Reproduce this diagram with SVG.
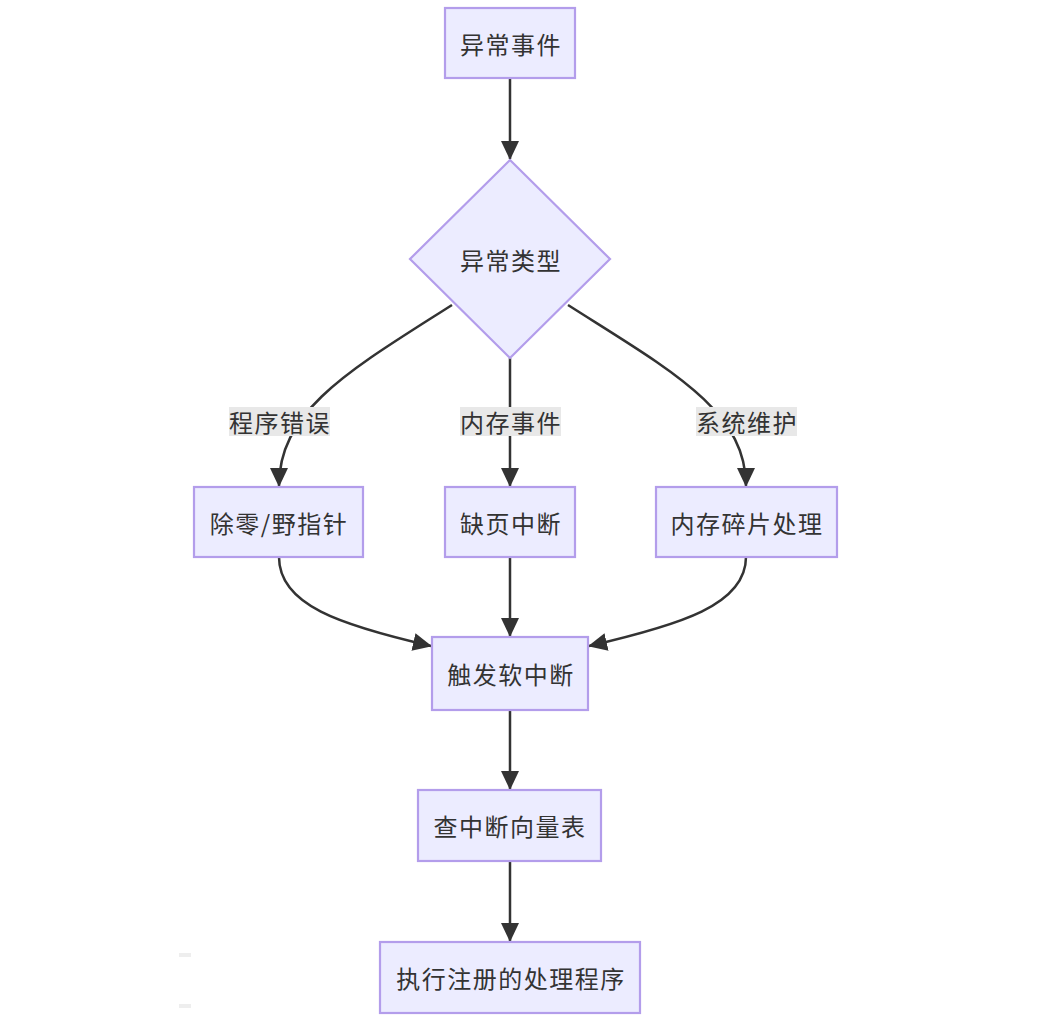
<svg xmlns="http://www.w3.org/2000/svg" width="1045" height="1024" viewBox="0 0 1045 1024">
<style>
.node{fill:#ECECFF;stroke:#B39DEB;stroke-width:2.2}
.t{font-family:"Noto Sans CJK SC","Noto Sans",sans-serif;font-size:24px;fill:#333;text-anchor:middle;dominant-baseline:central;letter-spacing:1.5px}
.edge{fill:none;stroke:#333;stroke-width:2.5}
.lbg{fill:#E8E8E8}
</style>
<defs>
<marker id="arr" markerUnits="userSpaceOnUse" markerWidth="20" markerHeight="20" viewBox="0 0 20 20" refX="18" refY="10" orient="auto">
<path d="M0,1 L19,10 L0,19 Z" fill="#333"/>
</marker>
</defs>
<rect width="1045" height="1024" fill="#fff"/>
<g id="edges">
<path class="edge" d="M510,78 L510,159" marker-end="url(#arr)"/>
<path class="edge" d="M452,305 C350,370 279,410 279,486" marker-end="url(#arr)"/>
<path class="edge" d="M510,358 L510,486" marker-end="url(#arr)"/>
<path class="edge" d="M568,305 C670,370 746,410 746,486" marker-end="url(#arr)"/>
<path class="edge" d="M279,557 C279,605 340,625 431,646" marker-end="url(#arr)"/>
<path class="edge" d="M510,557 L510,636" marker-end="url(#arr)"/>
<path class="edge" d="M746,557 C746,605 680,625 589,646" marker-end="url(#arr)"/>
<path class="edge" d="M510,710 L510,789" marker-end="url(#arr)"/>
<path class="edge" d="M510,861 L510,941" marker-end="url(#arr)"/>
</g>
<g id="edge-labels">
<g id="label-1"><rect class="lbg" x="229" y="407" width="101" height="29"/><text class="t" x="280" y="421">程序错误</text></g>
<g id="label-2"><rect class="lbg" x="460" y="407" width="101" height="29"/><text class="t" x="511" y="421">内存事件</text></g>
<g id="label-3"><rect class="lbg" x="696" y="407" width="101" height="29"/><text class="t" x="747" y="421">系统维护</text></g>
</g>
<g id="n1"><rect class="node" x="445" y="8" width="130" height="70"/><text class="t" x="511" y="43">异常事件</text></g>
<g id="n2"><polygon class="node" points="510,160 610,259 510,358 410,259"/><text class="t" x="511" y="259">异常类型</text></g>
<g id="n3"><rect class="node" x="194" y="487" width="169" height="70"/><text class="t" x="279" y="522">除零/野指针</text></g>
<g id="n4"><rect class="node" x="445" y="487" width="130" height="70"/><text class="t" x="511" y="522">缺页中断</text></g>
<g id="n5"><rect class="node" x="656" y="487" width="181" height="70"/><text class="t" x="747" y="522">内存碎片处理</text></g>
<g id="n6"><rect class="node" x="432" y="637" width="156" height="73"/><text class="t" x="511" y="673">触发软中断</text></g>
<g id="n7"><rect class="node" x="418" y="790" width="183" height="71"/><text class="t" x="510" y="825">查中断向量表</text></g>
<g id="n8"><rect class="node" x="380" y="942" width="260" height="71"/><text class="t" x="511" y="977">执行注册的处理程序</text></g>
<rect x="179" y="953" width="12" height="4" fill="#eee"/>
<rect x="179" y="1004" width="12" height="4" fill="#eee"/>
</svg>
